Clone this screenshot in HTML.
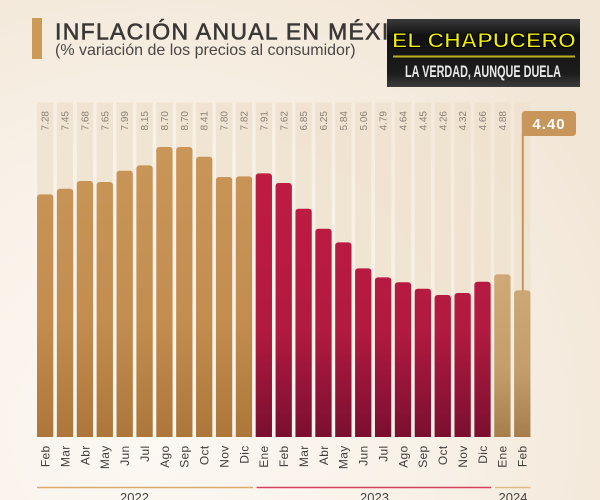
<!DOCTYPE html>
<html><head><meta charset="utf-8"><style>
html,body{margin:0;padding:0;width:600px;height:500px;overflow:hidden}
body{background:#f6eee3}
svg{display:block}
</style></head><body>
<svg width="600" height="500" viewBox="0 0 600 500" xmlns="http://www.w3.org/2000/svg">
<defs>
<radialGradient id="bg" cx="150" cy="430" r="520" gradientUnits="userSpaceOnUse">
<stop offset="0" stop-color="#fcf8f3"/><stop offset="0.55" stop-color="#f8f1e7"/><stop offset="1" stop-color="#f2e6d6"/>
</radialGradient>
<linearGradient id="gT" x1="0" y1="147" x2="0" y2="437" gradientUnits="userSpaceOnUse">
<stop offset="0" stop-color="#c99658"/><stop offset="0.6" stop-color="#c38d50"/><stop offset="1" stop-color="#ad763a"/>
</linearGradient>
<linearGradient id="gR" x1="0" y1="170" x2="0" y2="437" gradientUnits="userSpaceOnUse">
<stop offset="0" stop-color="#c01b42"/><stop offset="0.6" stop-color="#b21a40"/><stop offset="1" stop-color="#7a0f2f"/>
</linearGradient>
<linearGradient id="gL" x1="0" y1="270" x2="0" y2="437" gradientUnits="userSpaceOnUse">
<stop offset="0" stop-color="#cfa977"/><stop offset="0.6" stop-color="#c39d6b"/><stop offset="1" stop-color="#a67e4d"/>
</linearGradient>
<linearGradient id="logo" x1="0" y1="0" x2="0" y2="1">
<stop offset="0" stop-color="#3a3a3a"/><stop offset="0.25" stop-color="#111"/><stop offset="0.8" stop-color="#1c1c1c"/><stop offset="1" stop-color="#3c3c3c"/>
</linearGradient>
<clipPath id="cb"><rect x="0" y="0" width="600" height="437"/></clipPath>
</defs>
<rect width="600" height="500" fill="url(#bg)"/>

<!-- title -->
<rect x="32" y="18" width="10" height="41" fill="#cc9957"/>
<text x="55" y="39.5" font-family="Liberation Sans, sans-serif" font-size="23" fill="#3a3836" stroke="#3a3836" stroke-width="0.6" letter-spacing="1.3">INFLACIÓN ANUAL EN MÉXICO</text>
<text x="55" y="55" font-family="Liberation Sans, sans-serif" font-size="16" fill="#4a4846">(% variación de los precios al consumidor)</text>

<!-- logo -->
<rect x="387" y="19" width="193" height="68" fill="url(#logo)"/>
<text x="392" y="47.5" font-family="Liberation Sans, sans-serif" font-weight="bold" font-size="21" fill="#f2f000" stroke="#000" stroke-width="1" textLength="184" lengthAdjust="spacingAndGlyphs">EL CHAPUCERO</text>
<rect x="393" y="55.5" width="182" height="2" fill="#b9b21e"/>
<text x="405" y="77" font-family="Liberation Sans, sans-serif" font-weight="bold" font-size="17" fill="#e8e8e8" textLength="156" lengthAdjust="spacingAndGlyphs">LA VERDAD, AUNQUE DUELA</text>

<!-- strips -->
<g fill="#efe2cf" opacity="0.85">
<rect x="37" y="102.5" width="16.3" height="334.5"/>
<rect x="56.88" y="102.5" width="16.3" height="334.5"/>
<rect x="76.76" y="102.5" width="16.3" height="334.5"/>
<rect x="96.64" y="102.5" width="16.3" height="334.5"/>
<rect x="116.52" y="102.5" width="16.3" height="334.5"/>
<rect x="136.4" y="102.5" width="16.3" height="334.5"/>
<rect x="156.28" y="102.5" width="16.3" height="334.5"/>
<rect x="176.16" y="102.5" width="16.3" height="334.5"/>
<rect x="196.04" y="102.5" width="16.3" height="334.5"/>
<rect x="215.92" y="102.5" width="16.3" height="334.5"/>
<rect x="235.8" y="102.5" width="16.3" height="334.5"/>
<rect x="255.68" y="102.5" width="16.3" height="334.5"/>
<rect x="275.56" y="102.5" width="16.3" height="334.5"/>
<rect x="295.44" y="102.5" width="16.3" height="334.5"/>
<rect x="315.32" y="102.5" width="16.3" height="334.5"/>
<rect x="335.2" y="102.5" width="16.3" height="334.5"/>
<rect x="355.08" y="102.5" width="16.3" height="334.5"/>
<rect x="374.96" y="102.5" width="16.3" height="334.5"/>
<rect x="394.84" y="102.5" width="16.3" height="334.5"/>
<rect x="414.72" y="102.5" width="16.3" height="334.5"/>
<rect x="434.6" y="102.5" width="16.3" height="334.5"/>
<rect x="454.48" y="102.5" width="16.3" height="334.5"/>
<rect x="474.36" y="102.5" width="16.3" height="334.5"/>
<rect x="494.24" y="102.5" width="16.3" height="334.5"/>
<rect x="514.12" y="102.5" width="16.3" height="334.5"/>
</g>

<!-- bars -->
<g clip-path="url(#cb)">
<g fill="url(#gT)">
<rect x="37" y="194.4" width="16.3" height="250" rx="3"/>
<rect x="56.88" y="188.7" width="16.3" height="260" rx="3"/>
<rect x="76.76" y="181.0" width="16.3" height="260" rx="3"/>
<rect x="96.64" y="182.0" width="16.3" height="260" rx="3"/>
<rect x="116.52" y="170.7" width="16.3" height="270" rx="3"/>
<rect x="136.4" y="165.4" width="16.3" height="280" rx="3"/>
<rect x="156.28" y="147.0" width="16.3" height="300" rx="3"/>
<rect x="176.16" y="147.0" width="16.3" height="300" rx="3"/>
<rect x="196.04" y="156.7" width="16.3" height="290" rx="3"/>
<rect x="215.92" y="177.0" width="16.3" height="270" rx="3"/>
<rect x="235.8" y="176.4" width="16.3" height="270" rx="3"/>
</g>
<g fill="url(#gR)">
<rect x="255.68" y="173.4" width="16.3" height="270" rx="3"/>
<rect x="275.56" y="183.0" width="16.3" height="260" rx="3"/>
<rect x="295.44" y="208.7" width="16.3" height="240" rx="3"/>
<rect x="315.32" y="228.7" width="16.3" height="220" rx="3"/>
<rect x="335.2" y="242.4" width="16.3" height="200" rx="3"/>
<rect x="355.08" y="268.4" width="16.3" height="180" rx="3"/>
<rect x="374.96" y="277.4" width="16.3" height="170" rx="3"/>
<rect x="394.84" y="282.3" width="16.3" height="160" rx="3"/>
<rect x="414.72" y="288.7" width="16.3" height="160" rx="3"/>
<rect x="434.6" y="295.0" width="16.3" height="150" rx="3"/>
<rect x="454.48" y="293.0" width="16.3" height="150" rx="3"/>
<rect x="474.36" y="281.7" width="16.3" height="160" rx="3"/>
</g>
<g fill="url(#gL)">
<rect x="494.24" y="274.4" width="16.3" height="170" rx="3"/>
<rect x="514.12" y="290.4" width="16.3" height="150" rx="3"/>
</g>
</g>

<!-- value labels -->
<g font-family="Liberation Sans, sans-serif" font-size="10" fill="#8a8178" text-anchor="end">
<text transform="translate(48.7,111) rotate(-90)">7.28</text>
<text transform="translate(68.6,111) rotate(-90)">7.45</text>
<text transform="translate(88.5,111) rotate(-90)">7.68</text>
<text transform="translate(108.3,111) rotate(-90)">7.65</text>
<text transform="translate(128.2,111) rotate(-90)">7.99</text>
<text transform="translate(148.1,111) rotate(-90)">8.15</text>
<text transform="translate(168.0,111) rotate(-90)">8.70</text>
<text transform="translate(187.9,111) rotate(-90)">8.70</text>
<text transform="translate(207.7,111) rotate(-90)">8.41</text>
<text transform="translate(227.6,111) rotate(-90)">7.80</text>
<text transform="translate(247.5,111) rotate(-90)">7.82</text>
<text transform="translate(267.4,111) rotate(-90)">7.91</text>
<text transform="translate(287.3,111) rotate(-90)">7.62</text>
<text transform="translate(307.1,111) rotate(-90)">6.85</text>
<text transform="translate(327.0,111) rotate(-90)">6.25</text>
<text transform="translate(346.9,111) rotate(-90)">5.84</text>
<text transform="translate(366.8,111) rotate(-90)">5.06</text>
<text transform="translate(386.7,111) rotate(-90)">4.79</text>
<text transform="translate(406.5,111) rotate(-90)">4.64</text>
<text transform="translate(426.4,111) rotate(-90)">4.45</text>
<text transform="translate(446.3,111) rotate(-90)">4.26</text>
<text transform="translate(466.2,111) rotate(-90)">4.32</text>
<text transform="translate(486.1,111) rotate(-90)">4.66</text>
<text transform="translate(505.9,111) rotate(-90)">4.88</text>
</g>

<!-- callout -->
<line x1="522.8" y1="134" x2="522.8" y2="291" stroke="#c8955a" stroke-width="2"/>
<path d="M521.8 136 V115 Q521.8 111 525.8 111 H572 Q576 111 576 115 V132 Q576 136 572 136 Z" fill="#c8955a"/>
<text x="549" y="129" font-family="Liberation Sans, sans-serif" font-weight="bold" font-size="15" fill="#fff" text-anchor="middle" letter-spacing="1">4.40</text>

<!-- month labels -->
<g font-family="Liberation Sans, sans-serif" font-size="12" fill="#403d3b" text-anchor="end" letter-spacing="0.3">
<text transform="translate(49.5,445.5) rotate(-90)">Feb</text>
<text transform="translate(69.4,445.5) rotate(-90)">Mar</text>
<text transform="translate(89.3,445.5) rotate(-90)">Abr</text>
<text transform="translate(109.1,445.5) rotate(-90)">May</text>
<text transform="translate(129.0,445.5) rotate(-90)">Jun</text>
<text transform="translate(148.9,445.5) rotate(-90)">Jul</text>
<text transform="translate(168.8,445.5) rotate(-90)">Ago</text>
<text transform="translate(188.7,445.5) rotate(-90)">Sep</text>
<text transform="translate(208.5,445.5) rotate(-90)">Oct</text>
<text transform="translate(228.4,445.5) rotate(-90)">Nov</text>
<text transform="translate(248.3,445.5) rotate(-90)">Dic</text>
<text transform="translate(268.2,445.5) rotate(-90)">Ene</text>
<text transform="translate(288.1,445.5) rotate(-90)">Feb</text>
<text transform="translate(307.9,445.5) rotate(-90)">Mar</text>
<text transform="translate(327.8,445.5) rotate(-90)">Abr</text>
<text transform="translate(347.7,445.5) rotate(-90)">May</text>
<text transform="translate(367.6,445.5) rotate(-90)">Jun</text>
<text transform="translate(387.5,445.5) rotate(-90)">Jul</text>
<text transform="translate(407.3,445.5) rotate(-90)">Ago</text>
<text transform="translate(427.2,445.5) rotate(-90)">Sep</text>
<text transform="translate(447.1,445.5) rotate(-90)">Oct</text>
<text transform="translate(467.0,445.5) rotate(-90)">Nov</text>
<text transform="translate(486.9,445.5) rotate(-90)">Dic</text>
<text transform="translate(506.7,445.5) rotate(-90)">Ene</text>
<text transform="translate(526.6,445.5) rotate(-90)">Feb</text>
</g>

<!-- year lines -->
<line x1="37" y1="487.5" x2="253" y2="487.5" stroke="#dcab6c" stroke-width="1.6"/>
<line x1="256.5" y1="487.5" x2="491" y2="487.5" stroke="#d8405f" stroke-width="1.6"/>
<line x1="495" y1="487.5" x2="530.5" y2="487.5" stroke="#dfbb88" stroke-width="1.6"/>
<g font-family="Liberation Sans, sans-serif" font-size="13" fill="#444" text-anchor="middle">
<text x="134.5" y="502">2022</text>
<text x="374.5" y="502">2023</text>
<text x="513" y="502">2024</text>
</g>
</svg>
</body></html>
